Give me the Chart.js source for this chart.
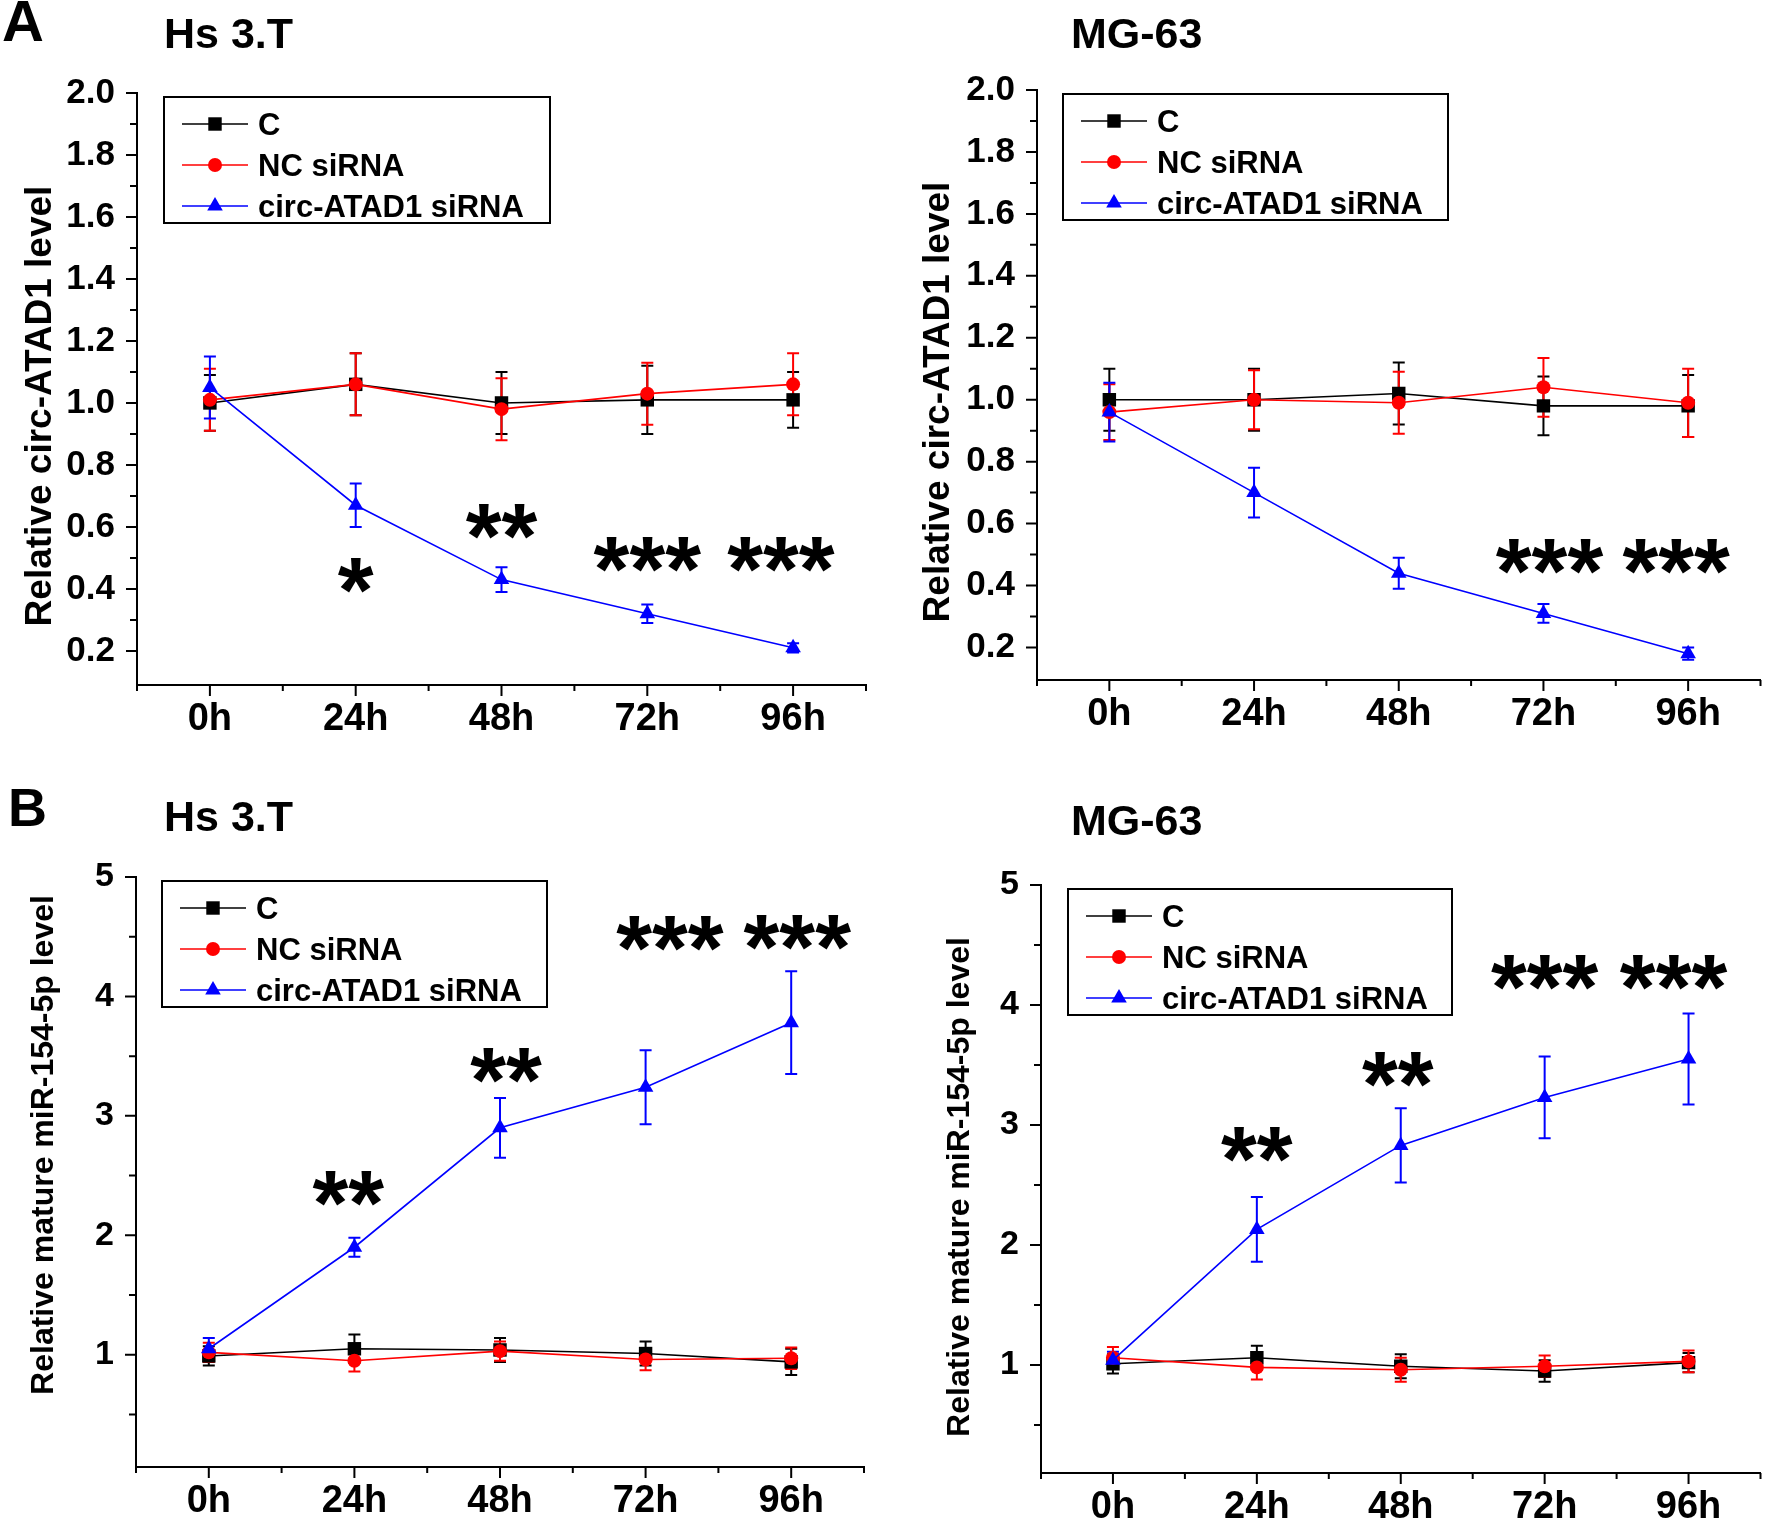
<!DOCTYPE html>
<html>
<head>
<meta charset="utf-8">
<title>circ-ATAD1 knockdown time course</title>
<script src="https://cdn.jsdelivr.net/npm/chart.js@4.4.0/dist/chart.umd.min.js"></script>
<style>
  html, body { margin: 0; padding: 0; background: #fff; }
  #page { position: relative; width: 1770px; height: 1524px; background: #fff; }
  .panel { position: absolute; width: 885px; height: 762px; }
</style>
</head>
<body>
<div id="page">
  <div class="panel" style="left:0;top:0"><canvas id="aHs" width="885" height="762"></canvas></div>
  <div class="panel" style="left:885px;top:0"><canvas id="aMg" width="885" height="762"></canvas></div>
  <div class="panel" style="left:0;top:762px"><canvas id="bHs" width="885" height="762"></canvas></div>
  <div class="panel" style="left:885px;top:762px"><canvas id="bMg" width="885" height="762"></canvas></div>
</div>
<script>
const FONT = "'Liberation Sans', Arial, Helvetica, sans-serif";

// --- DATA ---
const hours = [0, 24, 48, 72, 96];
const hourLabels = ['0h', '24h', '48h', '72h', '96h'];
const groups = ['C', 'NC siRNA', 'circ-ATAD1 siRNA'];
const circTicks = [0.2, 0.4, 0.6, 0.8, 1.0, 1.2, 1.4, 1.6, 1.8, 2.0];
const circMinor = [0.3, 0.5, 0.7, 0.9, 1.1, 1.3, 1.5, 1.7, 1.9];
const mirTicks = [1, 2, 3, 4, 5];
const mirMinor = [0.5, 1.5, 2.5, 3.5, 4.5];

// A - Hs 3.T, circ-ATAD1
const circHsC = [1.00, 1.06, 1.00, 1.01, 1.01];
const circHsCErr = [0.09, 0.10, 0.10, 0.11, 0.09];
const circHsNC = [1.01, 1.06, 0.98, 1.03, 1.06];
const circHsNCErr = [0.10, 0.10, 0.10, 0.10, 0.10];
const circHsSi = [1.05, 0.67, 0.43, 0.32, 0.21];
const circHsSiErr = [0.10, 0.07, 0.04, 0.03, 0.015];
const circHsStars = ['*', '**', '***', '***'];
const circHsStarHour = [24, 48, 72, 94];
const circHsStarLevel = [0.46, 0.635, 0.53, 0.53];

// A - MG-63, circ-ATAD1
const circMgC = [1.00, 1.00, 1.02, 0.98, 0.98];
const circMgCErr = [0.10, 0.10, 0.10, 0.095, 0.10];
const circMgNC = [0.96, 1.00, 0.99, 1.04, 0.99];
const circMgNCErr = [0.09, 0.095, 0.10, 0.095, 0.11];
const circMgSi = [0.96, 0.70, 0.44, 0.31, 0.18];
const circMgSiErr = [0.095, 0.08, 0.05, 0.03, 0.02];
const circMgStars = ['***', '***'];
const circMgStarHour = [73, 94];
const circMgStarLevel = [0.51, 0.51];

// B - Hs 3.T, miR-154-5p
const mirHsC = [0.99, 1.05, 1.04, 1.01, 0.94];
const mirHsCErr = [0.08, 0.12, 0.10, 0.10, 0.11];
const mirHsNC = [1.02, 0.95, 1.03, 0.96, 0.97];
const mirHsNCErr = [0.08, 0.09, 0.08, 0.09, 0.09];
const mirHsSi = [1.05, 1.90, 2.90, 3.24, 3.78];
const mirHsSiErr = [0.09, 0.08, 0.25, 0.31, 0.43];
const mirHsStars = ['**', '**', '***', '***'];
const mirHsStarHour = [23, 49, 76, 97];
const mirHsStarLevel = [2.44, 3.47, 4.57, 4.58];

// B - MG-63, miR-154-5p
const mirMgC = [1.01, 1.06, 0.99, 0.95, 1.02];
const mirMgCErr = [0.08, 0.10, 0.10, 0.09, 0.08];
const mirMgNC = [1.06, 0.98, 0.96, 0.99, 1.03];
const mirMgNCErr = [0.09, 0.10, 0.10, 0.09, 0.09];
const mirMgSi = [1.04, 2.13, 2.83, 3.23, 3.55];
const mirMgSiErr = [0.07, 0.27, 0.31, 0.34, 0.38];
const mirMgStars = ['**', '**', '***', '***'];
const mirMgStarHour = [24, 47.5, 72, 93.5];
const mirMgStarLevel = [2.88, 3.51, 4.32, 4.32];

// --- STYLE ---
const colors = ['#000000', '#ff0000', '#0000ff'];
const markers = ['rect', 'circle', 'triangle'];
const markerSize = [9.5, 7, 9];

function drawMarker(ctx, style, r, x, y, color) {
    ctx.fillStyle = color;
    ctx.beginPath();
    if (style === 'rect') {
        const s = Math.SQRT1_2 * r;
        ctx.rect(x - s, y - s, 2 * s, 2 * s);
    } else if (style === 'circle') {
        ctx.arc(x, y, r, 0, Math.PI * 2);
    } else {
        ctx.moveTo(x, y - r);
        ctx.lineTo(x + Math.sin(Math.PI * 2 / 3) * r, y + r / 2);
        ctx.lineTo(x - Math.sin(Math.PI * 2 / 3) * r, y + r / 2);
        ctx.closePath();
    }
    ctx.fill();
}

// error bars, axis ticks, legend box, stars and headings
function decorPlugin(p) {
    return {
        id: 'decor',
        beforeDatasetsDraw(chart) {
            const { ctx, scales: { x, y } } = chart;
            ctx.save();
            ctx.lineWidth = 2;
            p.errors.forEach((errs, i) => {
                ctx.strokeStyle = colors[i];
                errs.forEach((e, j) => {
                    const px = x.getPixelForValue(hours[j]);
                    const top = y.getPixelForValue(p.series[i][j] + e);
                    const bot = y.getPixelForValue(p.series[i][j] - e);
                    ctx.beginPath();
                    ctx.moveTo(px, top); ctx.lineTo(px, bot);
                    ctx.moveTo(px - 6, top); ctx.lineTo(px + 6, top);
                    ctx.moveTo(px - 6, bot); ctx.lineTo(px + 6, bot);
                    ctx.stroke();
                });
            });
            ctx.restore();
        },
        afterDraw(chart) {
            const { ctx, chartArea: a, scales: { x, y } } = chart;
            ctx.save();
            ctx.strokeStyle = '#000';
            ctx.fillStyle = '#000';
            ctx.lineWidth = 2;

            // y ticks (outside, left)
            ctx.beginPath();
            p.yTicks.forEach(v => {
                const py = y.getPixelForValue(v);
                ctx.moveTo(a.left, py); ctx.lineTo(a.left - 11, py);
            });
            p.yMinor.forEach(v => {
                const py = y.getPixelForValue(v);
                ctx.moveTo(a.left, py); ctx.lineTo(a.left - 7, py);
            });
            // x ticks every 12h, long ones on labelled hours
            for (let h = -12; h <= 108; h += 12) {
                const px = Math.min(x.getPixelForValue(h), chart.width - 1);
                const len = hours.includes(h) ? 11 : 6;
                ctx.moveTo(px, a.bottom); ctx.lineTo(px, a.bottom + len);
            }
            ctx.stroke();

            // legend box
            const L = p.legend;
            ctx.lineWidth = 2;
            ctx.strokeStyle = '#000';
            ctx.strokeRect(L.x, L.y, L.w, L.h);
            ctx.font = 'bold 31px ' + FONT;
            ctx.textAlign = 'left';
            ctx.textBaseline = 'alphabetic';
            groups.forEach((g, i) => {
                const cy = L.y + 27 + i * 41;
                ctx.strokeStyle = colors[i];
                ctx.lineWidth = 1.6;
                ctx.beginPath();
                ctx.moveTo(L.x + 18, cy); ctx.lineTo(L.x + 84, cy);
                ctx.stroke();
                drawMarker(ctx, markers[i], markerSize[i], L.x + 51, cy, colors[i]);
                ctx.fillStyle = '#000';
                ctx.fillText(g, L.x + 94, cy + 11);
            });

            // significance stars
            ctx.fillStyle = '#000';
            ctx.textAlign = 'center';
            ctx.font = 'bold 92px ' + FONT;
            p.stars.forEach((s, i) => {
                const px = x.getPixelForValue(p.starHour[i]);
                const py = y.getPixelForValue(p.starLevel[i]);
                ctx.fillText(s, px, py + 52);
            });

            // y axis title
            ctx.save();
            ctx.translate(p.yTitle.x, p.yTitle.y);
            ctx.rotate(-Math.PI / 2);
            ctx.font = 'bold ' + p.yTitle.size + 'px ' + FONT;
            ctx.textAlign = 'center';
            ctx.fillText(p.yTitle.text, 0, 0);
            ctx.restore();

            // panel letter and cell line title
            ctx.textAlign = 'left';
            if (p.letter) {
                ctx.font = 'bold ' + p.letter.size + 'px ' + FONT;
                ctx.fillText(p.letter.text, p.letter.x, p.letter.y);
            }
            ctx.font = 'bold 43px ' + FONT;
            ctx.fillText(p.title.text, p.title.x, p.title.y);
            ctx.restore();
        }
    };
}

function buildPanel(p) {
    const canvas = document.getElementById(p.id);
    const W = canvas.width, H = canvas.height;
    const datasets = p.series.map((vals, i) => ({
        label: groups[i],
        data: hours.map((h, j) => ({ x: h, y: vals[j] })),
        borderColor: colors[i],
        backgroundColor: colors[i],
        pointBackgroundColor: colors[i],
        pointBorderColor: colors[i],
        pointStyle: markers[i],
        pointRadius: markerSize[i],
        pointBorderWidth: 0,
        borderWidth: 1.6,
        tension: 0,
        fill: false,
        order: 3 - i
    }));
    const tickFont = { family: FONT, weight: 'bold', size: p.yFont };
    new Chart(canvas, {
        type: 'line',
        data: { datasets },
        options: {
            responsive: false,
            animation: false,
            events: [],
            layout: { padding: { left: 0, top: p.area[1], right: W - p.area[2], bottom: 0 } },
            plugins: { legend: { display: false }, tooltip: { enabled: false }, title: { display: false } },
            scales: {
                x: {
                    type: 'linear', min: -12, max: 108,
                    afterBuildTicks: s => { s.ticks = hours.map(v => ({ value: v })); },
                    afterFit: s => { s.height = H - p.area[3]; },
                    grid: { display: false, drawTicks: false },
                    border: { display: true, color: '#000', width: 2 },
                    ticks: {
                        autoSkip: false, maxRotation: 0, padding: 12, color: '#000',
                        font: { family: FONT, weight: 'bold', size: 38 },
                        callback: v => hourLabels[hours.indexOf(v)]
                    }
                },
                y: {
                    type: 'linear', min: p.yMin, max: p.yMax,
                    afterBuildTicks: s => { s.ticks = p.yTicks.map(v => ({ value: v })); },
                    afterFit: s => { s.width = p.area[0]; },
                    grid: { display: false, drawTicks: false },
                    border: { display: true, color: '#000', width: 2 },
                    ticks: {
                        autoSkip: false, padding: 22, color: '#000', font: tickFont,
                        callback: v => v.toFixed(p.decimals)
                    }
                }
            }
        },
        plugins: [decorPlugin(p)]
    });
}

buildPanel({
    id: 'aHs', area: [137, 93, 866, 685], yMin: 0.09, yMax: 2.0,
    yTicks: circTicks, yMinor: circMinor, decimals: 1, yFont: 35,
    series: [circHsC, circHsNC, circHsSi], errors: [circHsCErr, circHsNCErr, circHsSiErr],
    stars: circHsStars, starHour: circHsStarHour, starLevel: circHsStarLevel,
    legend: { x: 164, y: 97, w: 386, h: 126 },
    yTitle: { text: 'Relative circ-ATAD1 level', x: 51, y: 406, size: 37 },
    letter: { text: 'A', x: 2, y: 41, size: 58 },
    title: { text: 'Hs 3.T', x: 164, y: 48 }
});
buildPanel({
    id: 'aMg', area: [152, 90, 881, 680], yMin: 0.095, yMax: 2.0,
    yTicks: circTicks, yMinor: circMinor, decimals: 1, yFont: 35,
    series: [circMgC, circMgNC, circMgSi], errors: [circMgCErr, circMgNCErr, circMgSiErr],
    stars: circMgStars, starHour: circMgStarHour, starLevel: circMgStarLevel,
    legend: { x: 178, y: 94, w: 385, h: 126 },
    yTitle: { text: 'Relative circ-ATAD1 level', x: 64, y: 402, size: 37 },
    title: { text: 'MG-63', x: 186, y: 48 }
});
buildPanel({
    id: 'bHs', area: [136, 115, 864, 705], yMin: 0.06, yMax: 5,
    yTicks: mirTicks, yMinor: mirMinor, decimals: 0, yFont: 34,
    series: [mirHsC, mirHsNC, mirHsSi], errors: [mirHsCErr, mirHsNCErr, mirHsSiErr],
    stars: mirHsStars, starHour: mirHsStarHour, starLevel: mirHsStarLevel,
    legend: { x: 162, y: 119, w: 385, h: 126 },
    yTitle: { text: 'Relative mature miR-154-5p level', x: 53, y: 383, size: 32 },
    letter: { text: 'B', x: 8, y: 64, size: 54 },
    title: { text: 'Hs 3.T', x: 164, y: 69 }
});
buildPanel({
    id: 'bMg', area: [156, 123, 885, 711], yMin: 0.1, yMax: 5,
    yTicks: mirTicks, yMinor: mirMinor, decimals: 0, yFont: 34,
    series: [mirMgC, mirMgNC, mirMgSi], errors: [mirMgCErr, mirMgNCErr, mirMgSiErr],
    stars: mirMgStars, starHour: mirMgStarHour, starLevel: mirMgStarLevel,
    legend: { x: 183, y: 127, w: 384, h: 126 },
    yTitle: { text: 'Relative mature miR-154-5p level', x: 84, y: 425, size: 32 },
    title: { text: 'MG-63', x: 186, y: 73 }
});
</script>
</body>
</html>
